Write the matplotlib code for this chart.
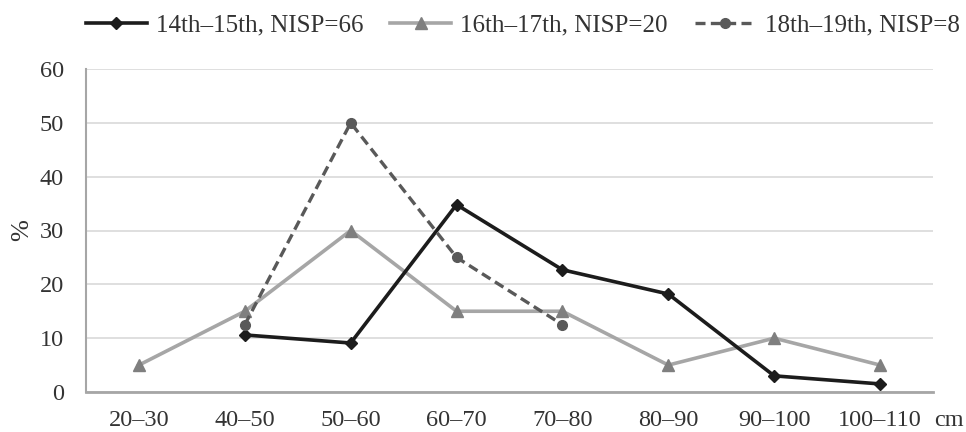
import numpy as np
import matplotlib
matplotlib.use('Agg')
import matplotlib.pyplot as plt

plt.rcParams['font.family'] = ['Liberation Serif', 'DejaVu Serif']

categories = ['20–30', '40–50', '50–60', '60–70', '70–80', '80–90', '90–100', '100–110']
s14_15 = [None, 10.6, 9.1, 34.8, 22.7, 18.2, 3.0, 1.5]
s16_17 = [5, 15, 30, 15, 15, 5, 10, 5]
s18_19 = [None, 12.5, 50, 25, 12.5, None, None, None]
labels = ['14th–15th, NISP=66', '16th–17th, NISP=20', '18th–19th, NISP=8']


def to_arr(v):
    return np.array([np.nan if a is None else a for a in v], dtype=float)


fig = plt.figure(figsize=(9.66, 4.32), dpi=100)
ax = fig.add_axes([86 / 966, 1 - 392 / 432, (933 - 86) / 966, (392 - 69) / 432])

x = np.arange(len(categories))
ax.plot(x, to_arr(s14_15), color='#1c1c1c', lw=2.6, marker='D', ms=6,
        mfc='#1c1c1c', mec='#1c1c1c', label=labels[0], zorder=3)
ax.plot(x, to_arr(s16_17), color='#a6a6a6', lw=2.6, marker='^', ms=9,
        mfc='#7f7f7f', mec='#7f7f7f', label=labels[1], zorder=2)
ax.plot(x, to_arr(s18_19), color='#595959', lw=2.4, ls=(0, (3, 1.6)), marker='o', ms=7,
        mfc='#595959', mec='#595959', label=labels[2], zorder=4)

ax.set_xlim(-0.5, len(categories) - 0.5)
ax.set_ylim(0, 60)
ax.set_yticks(range(0, 61, 10))
ax.set_xticks(x)
ax.set_xticklabels(categories)
ax.tick_params(axis='both', length=0, labelsize=17.5, colors='#333333')
ax.tick_params(axis='x', pad=13)
ax.tick_params(axis='y', pad=16)
ax.grid(axis='y', color='#d9d9d9', lw=1.2)
ax.set_axisbelow(True)
for s in ['top', 'right']:
    ax.spines[s].set_visible(False)
ax.spines['left'].set_color('#a6a6a6')
ax.spines['left'].set_linewidth(1.5)
ax.spines['bottom'].set_color('#a6a6a6')
ax.spines['bottom'].set_linewidth(2)

ax.set_ylabel('%', fontsize=19, color='#333333', labelpad=0)
ax.yaxis.set_label_coords(-0.063, 0.5)
fig.text(949 / 966, 1 - 420 / 432, 'cm', fontsize=17.5, color='#333333', ha='center', va='center')

fig.legend(loc='center', bbox_to_anchor=(0.541, 1 - 25 / 432), ncol=3, frameon=False,
           fontsize=18, handlelength=2.44, columnspacing=1.08, handletextpad=0.36,
           labelcolor='#333333', borderpad=0, borderaxespad=0)

fig.savefig('out.png', dpi=100)
